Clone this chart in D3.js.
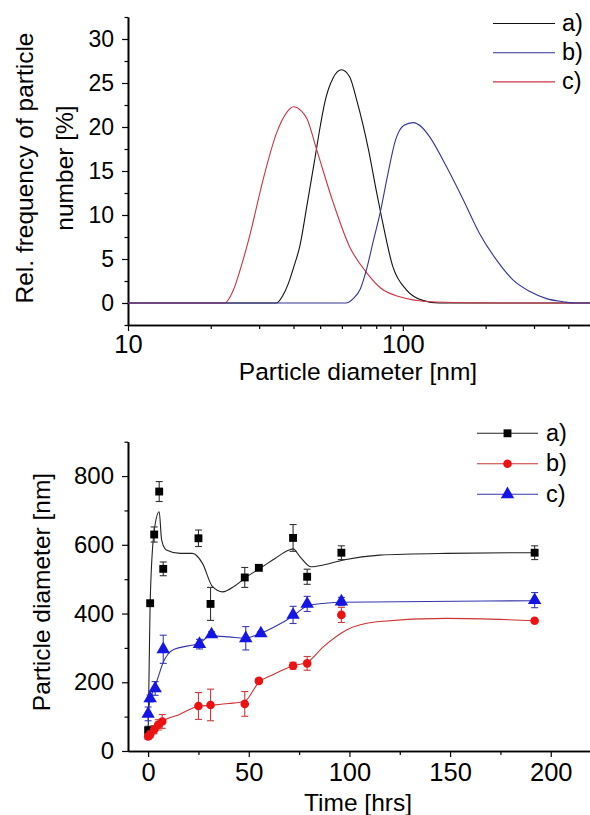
<!DOCTYPE html>
<html>
<head>
<meta charset="utf-8">
<script src="https://cdn.jsdelivr.net/npm/d3@7"></script>
<style>
  body { margin: 0; background: #fff; }
  svg { display: block; font-family: "Liberation Sans", Arial, sans-serif; }
</style>
</head>
<body>
<svg id="chart" width="590" height="815"></svg>
<script>
// ---- top panel: size distributions, [diameter nm, rel. frequency %] ----
const distA = [[10, 0], [34.7, 0], [36.5, 0.8], [38.3, 2.2], [40, 4], [42.2, 6.5], [45, 11.5], [47.5, 15.8],
  [50, 20], [52, 22.8], [55.8, 25.6], [59.8, 26.5], [64, 25.7], [68, 23], [75, 17.4], [80, 12.8],
  [83.6, 9.8], [92, 4.1], [103, 1.5], [118, 0.3], [135, 0], [500, 0]];
const distB = [[10, 0], [62, 0], [66, 0.5], [70, 1.6], [74, 4], [78, 7], [83, 10.5], [88, 14.5], [94, 18.5],
  [101, 20.2], [109, 20.5], [117, 20], [125, 18.9], [144, 15.5], [166, 11.7], [190, 7.9], [219, 4.9],
  [252, 2.6], [290, 1.3], [333, 0.5], [383, 0.15], [420, 0], [500, 0]];
const distC = [[10, 0], [22.5, 0], [24.2, 1.5], [26, 4.5], [27.8, 7.8], [31, 14], [34.7, 19.3], [37.7, 21.6],
  [40, 22.3], [42.5, 21.9], [44.7, 21], [48.6, 17.4], [55.8, 11.4], [64, 6.4], [74, 3.4], [83, 1.7],
  [97.5, 0.7], [125, 0.15], [170, 0.03], [230, 0], [500, 0]];
const topLegend = ["a)", "b)", "c)"];
const topYTicks = [0, 5, 10, 15, 20, 25, 30];
const topXTicks = [10, 100];

// ---- bottom panel: particle diameter vs time ----
const timeA = [0, 1, 3, 5.5, 7.5, 25, 31, 48, 55, 72, 79, 96, 192];
const diamA = [60, 430, 630, 755, 530, 619, 428, 505, 533, 620, 507, 577, 577];
const errA = [12, 0, 22, 29, 20, 24, 48, 29, 0, 39, 22, 20, 20];
const timeB = [0, 1, 3, 5, 7, 25, 31, 48, 55, 72, 79, 96, 192];
const diamB = [42, 48, 62, 76, 86, 131, 134, 137, 204, 248, 255, 396, 379];
const errB = [8, 10, 12, 15, 20, 39, 46, 36, 6, 10, 20, 22, 5];
const timeC = [0, 1, 3.5, 7.5, 25.5, 31.5, 48.5, 56, 72, 79, 96, 192];
const diamC = [108, 153, 182, 296, 311, 339, 328, 342, 396, 428, 435, 439];
const errC = [20, 10, 20, 41, 14, 8, 34, 5, 25, 22, 12, 22];
// fitted smooth lines [time, diameter]
const fitA = [[0, 50], [0.5, 240], [1, 430], [3, 640], [5.5, 696], [6.7, 614], [9, 585], [16, 575], [22, 575],
  [27, 546], [32, 478], [37, 463], [43, 480], [49, 507], [55.5, 531], [63, 560], [70, 585], [72, 588],
  [75.5, 565], [81, 536], [87, 541], [97, 556], [115, 570], [148, 575], [192, 577]];
const fitB = [[0, 42], [1, 48], [3, 62], [5, 76], [7, 86], [15, 105], [25, 130], [31, 133], [40, 138],
  [48, 145], [55, 200], [62, 222], [72, 248], [79, 258], [87, 303], [98.6, 352], [113.5, 376], [148, 386], [192, 379]];
const fitC = [[0, 105], [1, 150], [3, 180], [5, 215], [7.5, 258], [10, 283], [13, 296], [20, 306], [25, 312],
  [31, 335], [40, 332], [48, 328], [55, 340], [64, 365], [72, 393], [79, 422], [88, 430], [96, 433], [192, 437]];
const botLegend = ["a)", "b)", "c)"];
const botYTicks = [0, 200, 400, 600, 800];
const botXTicks = [0, 50, 100, 150, 200];

const svg = d3.select("#chart");
const font = "Liberation Sans, Arial, sans-serif";

function styleAxis(g) {
  g.select(".domain").attr("stroke", "#000").attr("stroke-width", 1.6);
  g.selectAll(".tick line").attr("stroke", "#000").attr("stroke-width", 1.2);
  g.selectAll("text").attr("font-family", font).attr("fill", "#000");
}

// ================= top chart =================
const x1 = d3.scaleLog().domain([10, 500]).range([128, 595]);
const y1 = d3.scaleLinear().domain([-2.5, 32.5]).range([325, 17]);

const minorLog = [20, 30, 40, 50, 60, 70, 80, 90, 200, 300, 400];
svg.append("g").attr("transform", "translate(0,325)")
  .call(d3.axisBottom(x1).tickValues(minorLog).tickSize(4).tickFormat("").tickSizeOuter(0))
  .call(styleAxis);
svg.append("g").attr("transform", "translate(0,325)")
  .call(d3.axisBottom(x1).tickValues(topXTicks).tickSize(6).tickPadding(4).tickFormat(d3.format("d")).tickSizeOuter(0))
  .call(styleAxis)
  .call(g => g.selectAll("text").attr("font-size", 25.5));

svg.append("g").attr("transform", "translate(128,0)")
  .call(d3.axisLeft(y1).tickValues(d3.range(-2.5, 33, 5)).tickSize(3.5).tickFormat("").tickSizeOuter(0))
  .call(styleAxis);
svg.append("g").attr("transform", "translate(128,0)")
  .call(d3.axisLeft(y1).tickValues(topYTicks).tickSize(6).tickPadding(8).tickSizeOuter(0))
  .call(styleAxis)
  .call(g => g.selectAll("text").attr("font-size", 23));

const line1 = d3.line().x(d => x1(d[0])).y(d => y1(d[1])).curve(d3.curveMonotoneX);
const topColors = ["#111", "#33339a", "#cc3344"];
const topSeries = [distA, distB, distC];
// draw a, c, then b so that blue sits on the zero baseline
[0, 2, 1].forEach(i => {
  svg.append("path").datum(topSeries[i])
    .attr("fill", "none").attr("stroke", topColors[i]).attr("stroke-width", 1.1)
    .attr("d", line1);
});

topLegend.forEach((name, i) => {
  const ly = 23.5 + i * 29.2;
  svg.append("line").attr("x1", 493).attr("x2", 555).attr("y1", ly).attr("y2", ly)
    .attr("stroke", topColors[i]).attr("stroke-width", 1.1);
  svg.append("text").attr("x", 562).attr("y", ly + 7.5).attr("font-size", 23.5)
    .attr("font-family", font).text(name);
});

svg.append("text").attr("transform", "translate(33,168) rotate(-90)")
  .attr("text-anchor", "middle").attr("font-size", 24.5).attr("font-family", font)
  .text("Rel. frequency of particle");
svg.append("text").attr("transform", "translate(73,168) rotate(-90)")
  .attr("text-anchor", "middle").attr("font-size", 24.5).attr("font-family", font)
  .text("number [%]");
svg.append("text").attr("x", 358).attr("y", 380).attr("text-anchor", "middle")
  .attr("font-size", 24.5).attr("font-family", font).text("Particle diameter [nm]");

// ================= bottom chart =================
const x2 = d3.scaleLinear().domain([-10, 220]).range([128, 591]);
const y2 = d3.scaleLinear().domain([0, 900]).range([751, 441.7]);

svg.append("g").attr("transform", "translate(0,751)")
  .call(d3.axisBottom(x2).tickValues([25, 75, 125, 175]).tickSize(4).tickFormat("").tickSizeOuter(0))
  .call(styleAxis);
svg.append("g").attr("transform", "translate(0,751)")
  .call(d3.axisBottom(x2).tickValues(botXTicks).tickSize(6).tickPadding(6).tickSizeOuter(0))
  .call(styleAxis)
  .call(g => g.selectAll("text").attr("font-size", 25.5));

svg.append("g").attr("transform", "translate(128,0)")
  .call(d3.axisLeft(y2).tickValues([100, 300, 500, 700, 900]).tickSize(3.5).tickFormat("").tickSizeOuter(0))
  .call(styleAxis);
svg.append("g").attr("transform", "translate(128,0)")
  .call(d3.axisLeft(y2).tickValues(botYTicks).tickSize(6).tickPadding(8).tickSizeOuter(0))
  .call(styleAxis)
  .call(g => g.selectAll("text").attr("font-size", 24));

const line2 = d3.line().x(d => x2(d[0])).y(d => y2(d[1])).curve(d3.curveMonotoneX);
const fitColors = ["#222", "#cc3333", "#3535b0"];
const markColors = ["#000", "#ee1111", "#1515e6"];
const errColors = ["#333", "#d23a3a", "#3a3ab8"];
const symbols = [d3.symbolSquare, d3.symbolCircle, d3.symbolTriangle];
const symSizes = [62, 58, 78];

const series = [
  { t: timeA, v: diamA, e: errA, fit: fitA },
  { t: timeB, v: diamB, e: errB, fit: fitB },
  { t: timeC, v: diamC, e: errC, fit: fitC }
];

series.forEach((s, i) => {
  svg.append("path").datum(s.fit)
    .attr("fill", "none").attr("stroke", fitColors[i]).attr("stroke-width", 1.1)
    .attr("d", line2);
});

series.forEach((s, i) => {
  const pts = s.t.map((t, k) => ({ t, v: s.v[k], e: s.e[k] }));
  const g = svg.append("g");
  const eb = g.selectAll(".eb").data(pts.filter(d => d.e > 0)).join("g")
    .attr("stroke", errColors[i]).attr("stroke-width", 1.1);
  eb.append("line").attr("x1", d => x2(d.t)).attr("x2", d => x2(d.t))
    .attr("y1", d => y2(d.v - d.e)).attr("y2", d => y2(d.v + d.e));
  eb.append("line").attr("x1", d => x2(d.t) - 3.5).attr("x2", d => x2(d.t) + 3.5)
    .attr("y1", d => y2(d.v + d.e)).attr("y2", d => y2(d.v + d.e));
  eb.append("line").attr("x1", d => x2(d.t) - 3.5).attr("x2", d => x2(d.t) + 3.5)
    .attr("y1", d => y2(d.v - d.e)).attr("y2", d => y2(d.v - d.e));
  g.selectAll(".pt").data(pts).join("path")
    .attr("transform", d => `translate(${x2(d.t)},${y2(d.v)})`)
    .attr("d", d3.symbol(symbols[i], symSizes[i]))
    .attr("fill", markColors[i]);
});

botLegend.forEach((name, i) => {
  const ly = 433.3 + i * 30.5;
  svg.append("line").attr("x1", 477).attr("x2", 538).attr("y1", ly).attr("y2", ly)
    .attr("stroke", fitColors[i]).attr("stroke-width", 1.1);
  svg.append("path").attr("transform", `translate(507.5,${ly})`)
    .attr("d", d3.symbol(symbols[i], symSizes[i])).attr("fill", markColors[i]);
  svg.append("text").attr("x", 546).attr("y", ly + 7.5).attr("font-size", 23.5)
    .attr("font-family", font).text(name);
});

svg.append("text").attr("transform", "translate(50,592) rotate(-90)")
  .attr("text-anchor", "middle").attr("font-size", 24.5).attr("font-family", font)
  .text("Particle diameter [nm]");
svg.append("text").attr("x", 358).attr("y", 811).attr("text-anchor", "middle")
  .attr("font-size", 24.5).attr("font-family", font).text("Time [hrs]");
</script>
</body>
</html>
